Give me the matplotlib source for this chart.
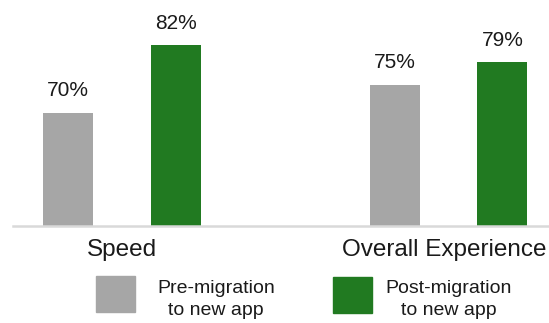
import matplotlib
matplotlib.use("Agg")
import matplotlib.pyplot as plt
from matplotlib.patches import Rectangle
from matplotlib.transforms import ScaledTranslation
import numpy as np

categories = ["Speed", "Overall Experience"]
pre_values = [70, 75]
post_values = [82, 79]
series_labels = ["Pre-migration\nto new app", "Post-migration\nto new app"]
colors = ["#a6a6a6", "#217a21"]

plt.rcParams['font.family'] = ['Liberation Sans', 'DejaVu Sans']

W, H = 549, 323
fig = plt.figure(figsize=(W / 100, H / 100), dpi=100)
ax = fig.add_axes([13 / W, (H - 226) / H, (W - 13) / W, 226 / H])

x = np.arange(len(categories))
width = 0.153
off = 0.165
b1 = ax.bar(x - off, pre_values, width, color=colors[0])
b2 = ax.bar(x + off, post_values, width, color=colors[1])
ax.set_ylim(50, 90)
ax.set_xlim(-0.334, 1.308)

for bars, vals in ((b1, pre_values), (b2, post_values)):
    for rect, v in zip(bars, vals):
        ax.annotate(f"{v}%", (rect.get_x() + rect.get_width() / 2, v),
                    xytext=(0, 11.9), textcoords="offset points",
                    ha="center", va="baseline", fontsize=15, color="#1a1a1a")

for s in ["top", "right", "left"]:
    ax.spines[s].set_visible(False)
ax.spines["bottom"].set_color("#d9d9d9")
ax.spines["bottom"].set_linewidth(1.8)
ax.set_yticks([])
ax.set_xticks(x)
ax.set_xticklabels(categories, fontsize=17.5, color="#1a1a1a")
ax.tick_params(axis="x", length=0, pad=21.6)
labels = ax.get_xticklabels()
for lab in labels:
    lab.set_va("baseline")
labels[1].set_transform(labels[1].get_transform()
                        + ScaledTranslation(-4.5 / 100, 0, fig.dpi_scale_trans))

# legend
leg = [(96, 276, 216, series_labels[0], colors[0]),
       (333, 277, 449, series_labels[1], colors[1])]
for px, py, tx, lab, c in leg:
    fig.add_artist(Rectangle((px / W, (H - py - 36) / H), 39 / W, 36 / H,
                             transform=fig.transFigure, color=c))
    fig.text(tx / W, (H - 315) / H, lab, ha="center", va="baseline",
             fontsize=14, color="#1a1a1a", linespacing=1.35,
             multialignment="center")

fig.savefig("out.png", dpi=100)
